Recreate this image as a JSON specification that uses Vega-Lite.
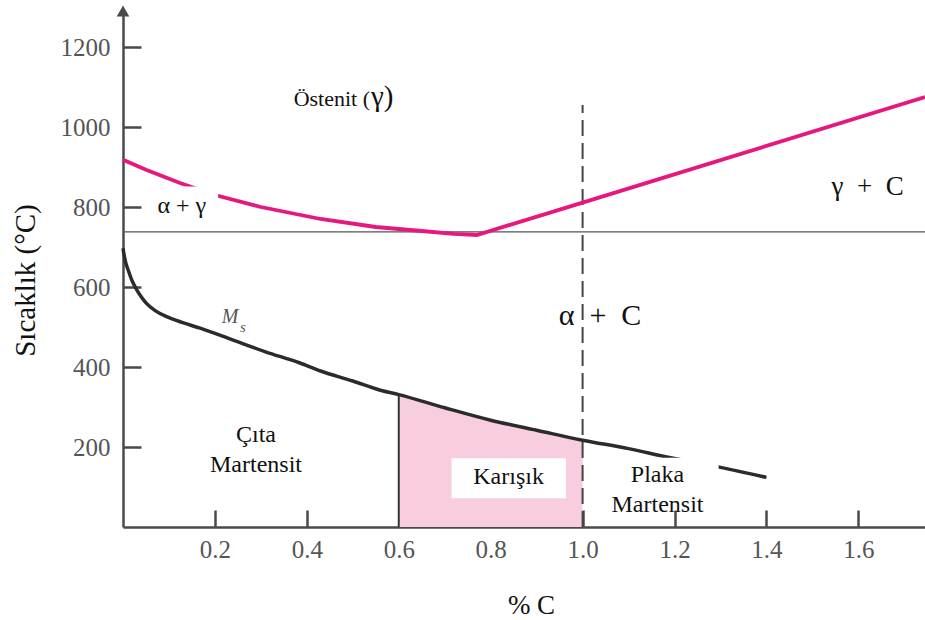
{
  "$schema": "https://vega.github.io/schema/vega-lite/v6.json",
  "autosize": "none",
  "width": 802,
  "height": 516,
  "padding": {"left": 123, "top": 11, "right": 0, "bottom": 93},
  "background": "white",
  "config": {
    "view": {"stroke": null},
    "font": "'Liberation Serif', 'Times New Roman', 'DejaVu Serif', serif",
    "text": {"font": "'Liberation Serif', 'Times New Roman', 'DejaVu Serif', serif"},
    "axis": {
      "grid": false,
      "domainColor": "#4a4a4a",
      "domainWidth": 2.5,
      "tickColor": "#4a4a4a",
      "tickWidth": 2.5,
      "labelFont": "'Liberation Serif', 'Times New Roman', 'DejaVu Serif', serif",
      "labelFontSize": 25,
      "labelColor": "#555555",
      "titleFont": "'Liberation Serif', 'Times New Roman', 'DejaVu Serif', serif",
      "titleFontWeight": "normal",
      "titleColor": "#111111"
    }
  },
  "encoding": {
    "x": {"field": "x", "type": "quantitative", "scale": {"domain": [0, 1.745], "nice": false, "zero": false},
      "axis": {"values": [0.2, 0.4, 0.6, 0.8, 1.0, 1.2, 1.4, 1.6], "format": ".1f", "tickSize": -17, "labelPadding": 27,
        "labelFontSize": 25,
        "title": "% C", "titleFontSize": 27, "titleX": 408, "titleY": 86, "titleBaseline": "alphabetic", "titleAlign": "center"}},
    "y": {"field": "y", "type": "quantitative", "scale": {"domain": [0, 1290], "nice": false, "zero": false},
      "axis": {"values": [200, 400, 600, 800, 1000, 1200], "format": "d", "tickSize": -18, "labelPadding": 31,
        "labelFontSize": 25,
        "title": "Sıcaklık (°C)", "titleFontSize": 29, "titleAngle": -90, "titleX": -98, "titleY": 269, "titleBaseline": "middle", "titleAlign": "center"}}
  },
  "layer": [
    {
      "data": {"values": [
        {"x": 0.6, "y": 331}, {"x": 0.7, "y": 298}, {"x": 0.8, "y": 267}, {"x": 0.9, "y": 242}, {"x": 1.0, "y": 217}
      ]},
      "mark": {"type": "area", "color": "#f8cde0", "interpolate": "monotone"},
      "encoding": {"y2": {"datum": 0}}
    },
    {
      "data": {"values": [{"x": 0.6, "y": 0, "y2": 331}]},
      "mark": {"type": "rule", "color": "#333333", "strokeWidth": 2},
      "encoding": {"y2": {"field": "y2"}}
    },
    {
      "data": {"values": [{"x": 1.0, "y": 0, "y2": 1055}]},
      "mark": {"type": "rule", "color": "#444444", "strokeWidth": 2, "strokeDash": [16, 7]},
      "encoding": {"y2": {"field": "y2"}}
    },
    {
      "data": {"values": [{"x": 0, "x2": 1.745, "y": 738}]},
      "mark": {"type": "rule", "color": "#555555", "strokeWidth": 1.2},
      "encoding": {"x2": {"field": "x2"}}
    },
    {
      "data": {"values": [
        {"x": 0, "y": 918}, {"x": 0.05, "y": 893}, {"x": 0.124, "y": 860}, {"x": 0.2, "y": 830},
        {"x": 0.3, "y": 800}, {"x": 0.43, "y": 770}, {"x": 0.55, "y": 750}, {"x": 0.65, "y": 740},
        {"x": 0.72, "y": 733}, {"x": 0.77, "y": 730}, {"x": 1.0, "y": 811}, {"x": 1.745, "y": 1075}
      ]},
      "mark": {"type": "line", "color": "#e6177f", "strokeWidth": 3.8},
      "encoding": {}
    },
    {
      "data": {"values": [
        {"x": 0, "y": 697}, {"x": 0.005, "y": 665}, {"x": 0.012, "y": 640}, {"x": 0.02, "y": 615},
        {"x": 0.03, "y": 593}, {"x": 0.04, "y": 575}, {"x": 0.051, "y": 559}, {"x": 0.07, "y": 541},
        {"x": 0.095, "y": 526}, {"x": 0.13, "y": 511}, {"x": 0.168, "y": 497}, {"x": 0.24, "y": 467},
        {"x": 0.31, "y": 438}, {"x": 0.385, "y": 410}, {"x": 0.43, "y": 390}, {"x": 0.5, "y": 365},
        {"x": 0.56, "y": 342}, {"x": 0.6, "y": 331}, {"x": 0.7, "y": 298}, {"x": 0.8, "y": 267},
        {"x": 0.9, "y": 242}, {"x": 1.0, "y": 217}, {"x": 1.1, "y": 196}, {"x": 1.18, "y": 176},
        {"x": 1.3, "y": 149}, {"x": 1.4, "y": 124}
      ]},
      "mark": {"type": "line", "color": "#2b2b2b", "strokeWidth": 3.5, "interpolate": "monotone"},
      "encoding": {}
    },
    {
      "data": {"values": [
        {"x": 0.052, "x2": 0.207, "y": 763, "y2": 851},
        {"x": 0.715, "x2": 0.964, "y": 72, "y2": 172},
        {"x": 1.08, "x2": 1.296, "y": 118, "y2": 173}
      ]},
      "mark": {"type": "rect", "color": "white"},
      "encoding": {"x2": {"field": "x2"}, "y2": {"field": "y2"}}
    },
    {
      "data": {"values": [{"x": 0, "y": 1290}]},
      "mark": {"type": "point", "shape": "triangle-up", "filled": true, "color": "#4a4a4a", "size": 160, "opacity": 1},
      "encoding": {}
    },
    {
      "data": {"values": [{"x": 0.5375, "y": 1052, "t": "Östenit ("}]},
      "mark": {"type": "text", "fontSize": 22, "align": "right", "baseline": "alphabetic", "color": "#111111"},
      "encoding": {"text": {"field": "t"}}
    },
    {
      "data": {"values": [{"x": 0.5375, "y": 1052, "t": "γ)"}]},
      "mark": {"type": "text", "fontSize": 29, "align": "left", "baseline": "alphabetic", "dx": 1, "color": "#111111"},
      "encoding": {"text": {"field": "t"}}
    },
    {
      "data": {"values": [
        {"x": 0.128, "y": 785, "t": "α + γ"},
        {"x": 0.2894, "y": 213, "t": "Çıta"},
        {"x": 0.2894, "y": 138, "t": "Martensit"},
        {"x": 0.839, "y": 107, "t": "Karışık"},
        {"x": 1.163, "y": 113, "t": "Plaka"},
        {"x": 1.163, "y": 38, "t": "Martensit"}
      ]},
      "mark": {"type": "text", "fontSize": 24, "align": "center", "baseline": "alphabetic", "color": "#111111"},
      "encoding": {"text": {"field": "t"}}
    },
    {
      "data": {"values": [{"x": 1.62, "y": 830, "t": "γ\u2002+\u2002C"}]},
      "mark": {"type": "text", "fontSize": 27, "align": "center", "baseline": "alphabetic", "color": "#111111"},
      "encoding": {"text": {"field": "t"}}
    },
    {
      "data": {"values": [{"x": 1.038, "y": 505, "t": "α\u2002+\u2002C"}]},
      "mark": {"type": "text", "fontSize": 30, "align": "center", "baseline": "alphabetic", "color": "#111111"},
      "encoding": {"text": {"field": "t"}}
    },
    {
      "data": {"values": [{"x": 0.215, "y": 509, "t": "M"}]},
      "mark": {"type": "text", "fontSize": 20, "fontStyle": "italic", "align": "left", "baseline": "alphabetic", "color": "#555555"},
      "encoding": {"text": {"field": "t"}}
    },
    {
      "data": {"values": [{"x": 0.2546, "y": 488, "t": "s"}]},
      "mark": {"type": "text", "fontSize": 15, "fontStyle": "italic", "align": "left", "baseline": "alphabetic", "color": "#555555"},
      "encoding": {"text": {"field": "t"}}
    }
  ]
}
